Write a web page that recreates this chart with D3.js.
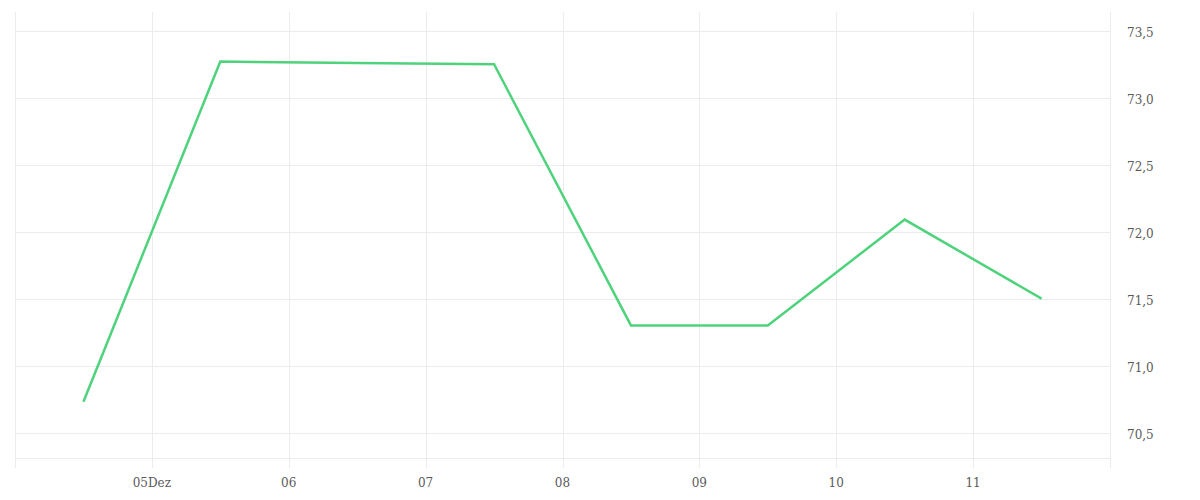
<!DOCTYPE html>
<html>
<head>
<meta charset="utf-8">
<script src="https://cdn.jsdelivr.net/npm/d3@7"></script>
<style>
    body { margin: 0; background: #fff; }
    .grid line { stroke: #ececec; stroke-width: 1; shape-rendering: crispEdges; }
    .tick-label { font-family: "DejaVu Serif", serif; font-size: 12px; fill: #5a5a5a; }
</style>
</head>
<body>
<script>
(function() {
    // data: daily values, one per day at noon
    var dates = ["2023-12-04", "2023-12-05", "2023-12-06", "2023-12-07",
                 "2023-12-08", "2023-12-09", "2023-12-10", "2023-12-11"];
    var values = [70.73, 73.27, 73.26, 73.25, 71.30, 71.30, 72.09, 71.50];

    // axis ticks
    var xTickDates = ["2023-12-05", "2023-12-06", "2023-12-07", "2023-12-08",
                      "2023-12-09", "2023-12-10", "2023-12-11"];
    var xTickLabels = ["05Dez", "06", "07", "08", "09", "10", "11"];
    var yTicks = [70.5, 71.0, 71.5, 72.0, 72.5, 73.0, 73.5];
    var yTickLabels = ["70,5", "71,0", "71,5", "72,0", "72,5", "73,0", "73,5"];

    var settings = {
        width: 1200,
        height: 500,
        left: 15,
        right: 1110,
        top: 12,
        bottom: 458,
        lineColor: "#4fd27c"
    };

    var parse = d3.timeParse("%Y-%m-%d");
    var noon = function(s) { return d3.timeHour.offset(parse(s), 12); };

    var svg = d3.select("body").append("svg")
        .attr("width", settings.width)
        .attr("height", settings.height);

    var x = d3.scaleTime()
        .domain([parse("2023-12-04"), parse("2023-12-12")])
        .range([settings.left, settings.right]);

    var y = d3.scaleLinear()
        .domain([70.31, 73.64])
        .range([settings.bottom, settings.top]);

    var grid = svg.append("g").classed("grid", true);

    // vertical grid lines (day boundaries + plot borders)
    var vLines = [parse("2023-12-04")].concat(xTickDates.map(parse), [parse("2023-12-12")]);
    grid.selectAll("line.v")
        .data(vLines)
        .enter().append("line")
        .attr("x1", function(d) { return Math.round(x(d)) + 0.5; })
        .attr("x2", function(d) { return Math.round(x(d)) + 0.5; })
        .attr("y1", settings.top)
        .attr("y2", settings.bottom + 10);

    // horizontal grid lines
    grid.selectAll("line.h")
        .data(yTicks)
        .enter().append("line")
        .attr("x1", settings.left)
        .attr("x2", settings.right)
        .attr("y1", function(d) { return Math.round(y(d)) + 0.5; })
        .attr("y2", function(d) { return Math.round(y(d)) + 0.5; });

    // bottom border
    grid.append("line")
        .attr("x1", settings.left)
        .attr("x2", settings.right)
        .attr("y1", settings.bottom + 0.5)
        .attr("y2", settings.bottom + 0.5);

    // x labels
    svg.selectAll("text.xl")
        .data(xTickDates)
        .enter().append("text")
        .classed("tick-label", true)
        .attr("x", function(d) { return x(parse(d)); })
        .attr("y", 487)
        .attr("text-anchor", "middle")
        .text(function(d, i) { return xTickLabels[i]; });

    // y labels
    svg.selectAll("text.yl")
        .data(yTicks)
        .enter().append("text")
        .classed("tick-label", true)
        .attr("x", 1127)
        .attr("y", function(d) { return y(d) + 6; })
        .text(function(d, i) { return yTickLabels[i]; });

    // line
    var line = d3.line()
        .x(function(d) { return x(noon(d.date)); })
        .y(function(d) { return y(d.value); });

    var points = dates.map(function(d, i) { return { date: d, value: values[i] }; });

    svg.append("path")
        .datum(points)
        .attr("d", line)
        .attr("fill", "none")
        .attr("stroke", settings.lineColor)
        .attr("stroke-width", 2.5)
        .attr("stroke-linejoin", "miter");
})();
</script>
</body>
</html>
